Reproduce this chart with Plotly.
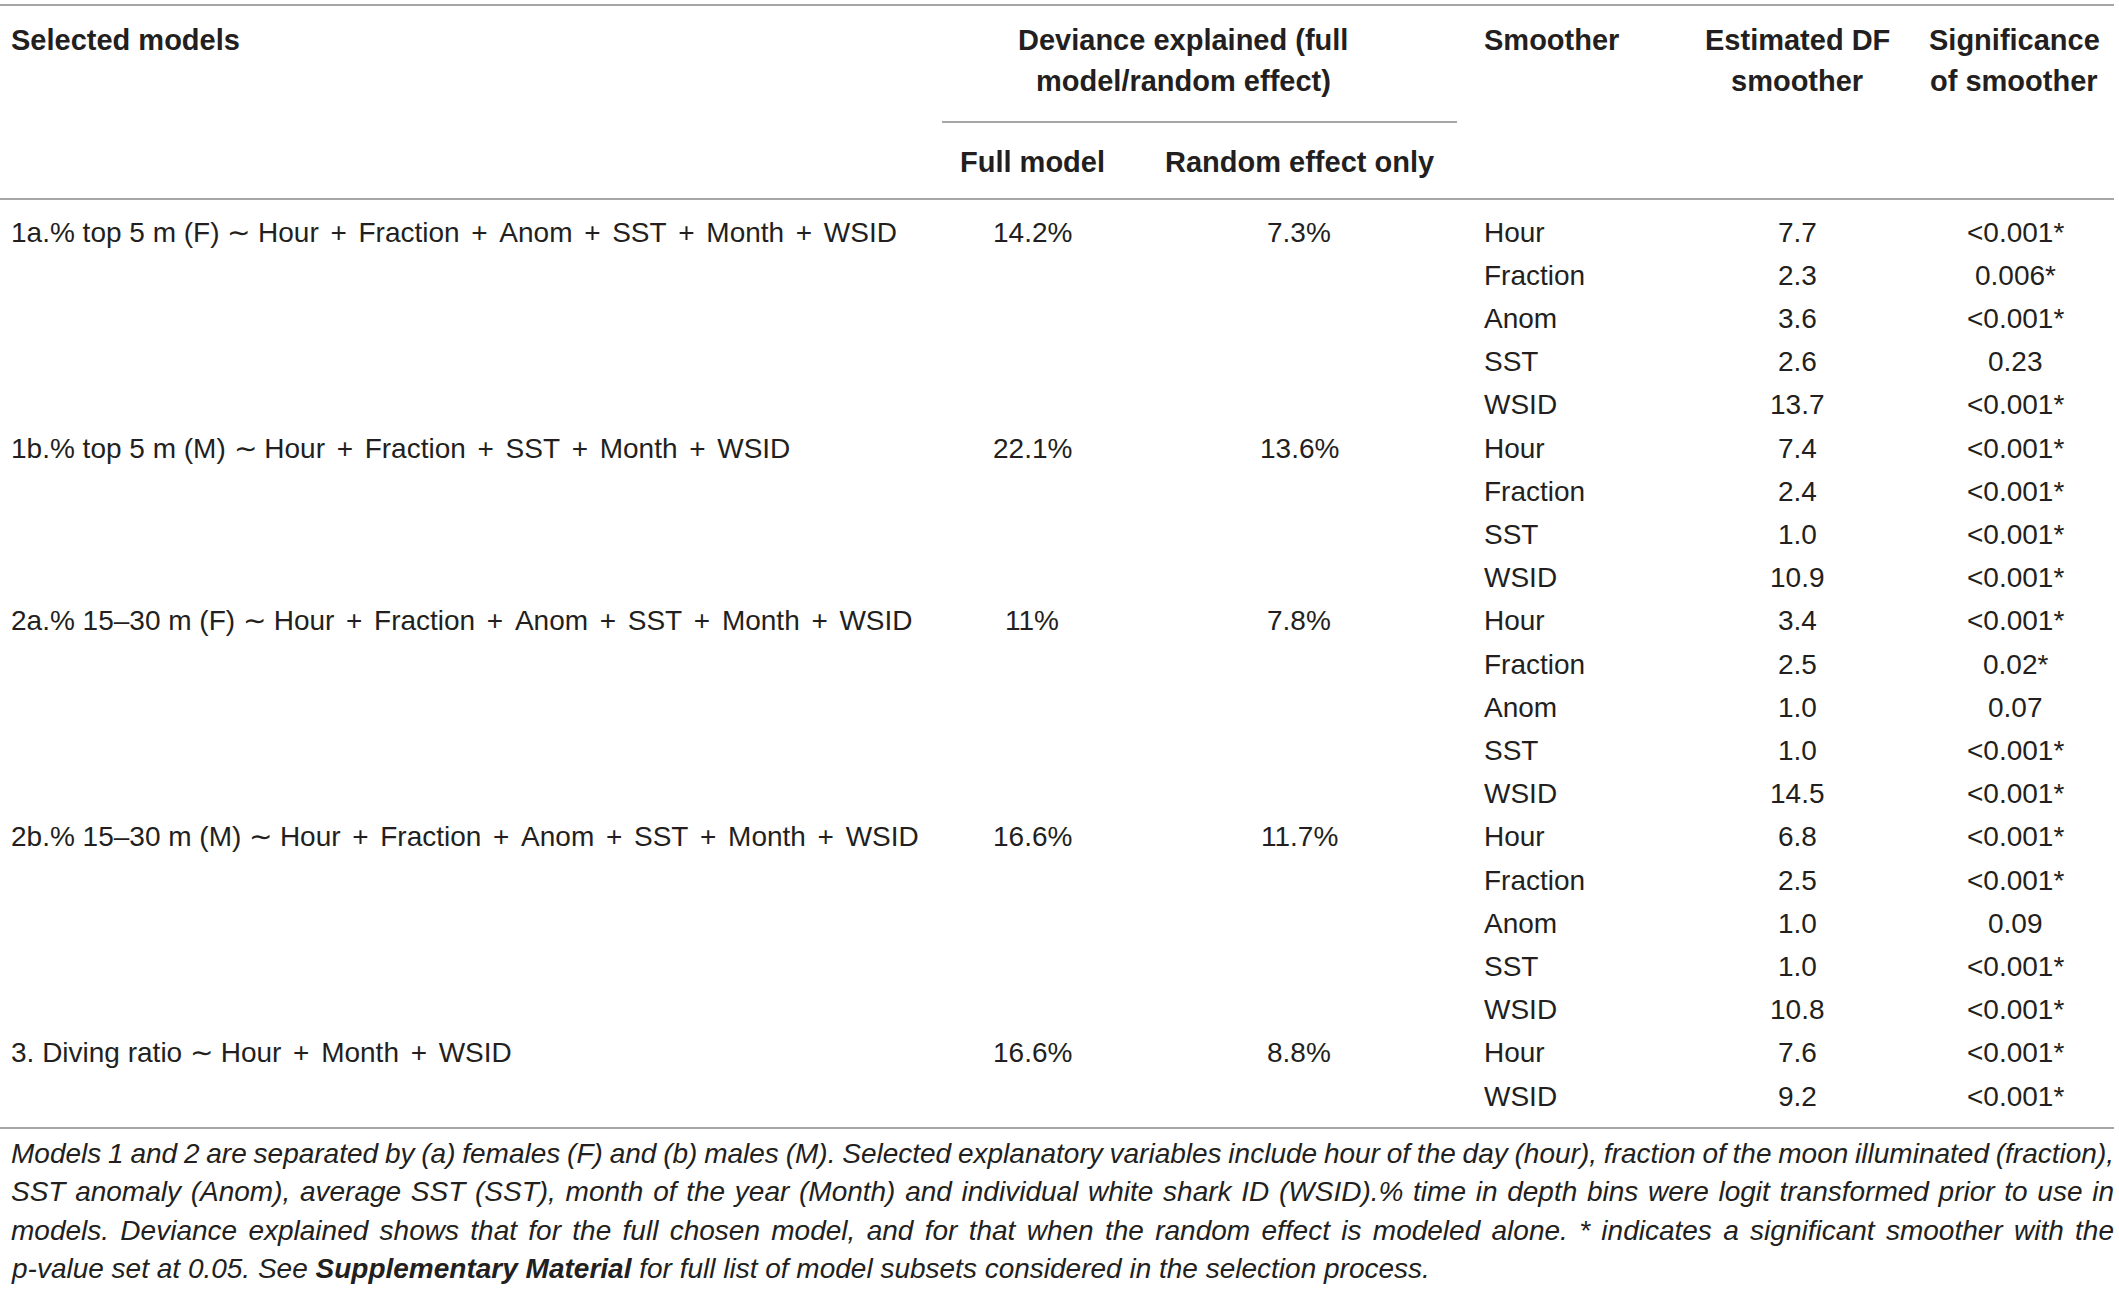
import json
import plotly.graph_objects as go

# ---------------- data ----------------
models = [
    "1a.% top 5 m (F) \u223c Hour + Fraction + Anom + SST + Month + WSID",
    "1b.% top 5 m (M) \u223c Hour + Fraction + SST + Month + WSID",
    "2a.% 15\u201330 m (F) \u223c Hour + Fraction + Anom + SST + Month + WSID",
    "2b.% 15\u201330 m (M) \u223c Hour + Fraction + Anom + SST + Month + WSID",
    "3. Diving ratio \u223c Hour + Month + WSID",
]
full_model = ["14.2%", "22.1%", "11%", "16.6%", "16.6%"]
random_only = ["7.3%", "13.6%", "7.8%", "11.7%", "8.8%"]
smoothers = [
    ["Hour", "Fraction", "Anom", "SST", "WSID"],
    ["Hour", "Fraction", "SST", "WSID"],
    ["Hour", "Fraction", "Anom", "SST", "WSID"],
    ["Hour", "Fraction", "Anom", "SST", "WSID"],
    ["Hour", "WSID"],
]
est_df = [
    [7.7, 2.3, 3.6, 2.6, 13.7],
    [7.4, 2.4, 1.0, 10.9],
    [3.4, 2.5, 1.0, 1.0, 14.5],
    [6.8, 2.5, 1.0, 1.0, 10.8],
    [7.6, 9.2],
]
significance = [
    ["<0.001*", "0.006*", "<0.001*", "0.23", "<0.001*"],
    ["<0.001*", "<0.001*", "<0.001*", "<0.001*"],
    ["<0.001*", "0.02*", "0.07", "<0.001*", "<0.001*"],
    ["<0.001*", "<0.001*", "0.09", "<0.001*", "<0.001*"],
    ["<0.001*", "<0.001*"],
]
caption_lines = [
    "Models 1 and 2 are separated by (a) females (F) and (b) males (M). Selected explanatory variables include hour of the day (hour), fraction of the moon illuminated (fraction),",
    "SST anomaly (Anom), average SST (SST), month of the year (Month) and individual white shark ID (WSID).% time in depth bins were logit transformed prior to use in",
    "models. Deviance explained shows that for the full chosen model, and for that when the random effect is modeled alone. * indicates a significant smoother with the",
    "p-value set at 0.05. See <b>Supplementary Material</b> for full list of model subsets considered in the selection process.",
]

# ---------------- layout constants ----------------
W, H = 2119, 1289
FONT = "Liberation Sans, Arial, Helvetica, sans-serif"
TXT = "#231f20"
RULE = "#a6a6a6"
FS, FS_B, FS_CAP = 28, 29, 28
X_MODEL, X_FULL, X_RAND, X_SMOOTH, X_DF, X_SIG = 9, 1032, 1299, 1482, 1797, 2015
X_DEV, X_SIGHEAD = 1183, 2014
SPAN_X0, SPAN_X1 = 942, 1457
Y_ROW0, ROW_H = 232, 43.2
Y_H1, Y_H2, Y_SUB = 40, 81, 162
Y_TOP, Y_SPAN, Y_HEAD, Y_BOT = 5, 122, 199, 1128
Y_CAP0, CAP_H = 1153, 38.5
CAP_WIDTH = 2103

fig = go.Figure()
ann = []


def add(text, x, y, anchor="left", size=FS, bold=False, italic=False):
    t = text
    if bold:
        t = "<b>" + t + "</b>"
    if italic:
        t = "<i>" + t + "</i>"
    ann.append(dict(text=t, x=x, y=y, xref="x", yref="y", xanchor=anchor,
                    align=anchor, yanchor="middle", showarrow=False,
                    font=dict(family=FONT, size=size, color=TXT)))
    return len(ann) - 1


def model_text(s):
    # math-style spacing around the plus operators
    return s.replace(" + ", "\u2004\u200a+\u2004\u200a")


# headers
add("Selected models", X_MODEL, Y_H1, size=FS_B, bold=True)
add("Deviance explained (full", X_DEV, Y_H1, "center", FS_B, True)
add("model/random effect)", X_DEV, Y_H2, "center", FS_B, True)
add("Full model", X_FULL, Y_SUB, "center", FS_B, True)
add("Random effect only", X_RAND, Y_SUB, "center", FS_B, True)
add("Smoother", X_SMOOTH, Y_H1, size=FS_B, bold=True)
add("Estimated DF", X_DF, Y_H1, "center", FS_B, True)
add("smoother", X_DF, Y_H2, "center", FS_B, True)
add("Significance", X_SIGHEAD, Y_H1, "center", FS_B, True)
add("of smoother", X_SIGHEAD, Y_H2, "center", FS_B, True)

# body
row = 0
for i, m in enumerate(models):
    y = Y_ROW0 + row * ROW_H
    add(model_text(m), X_MODEL, y)
    add(full_model[i], X_FULL, y, "center")
    add(random_only[i], X_RAND, y, "center")
    for j, s in enumerate(smoothers[i]):
        yy = Y_ROW0 + (row + j) * ROW_H
        add(s, X_SMOOTH, yy)
        add(f"{est_df[i][j]:.1f}", X_DF, yy, "center")
        add(significance[i][j].replace("<", "&lt;"), X_SIG, yy, "center")
    row += len(smoothers[i])

# caption
justify_idx = []
for k, line in enumerate(caption_lines):
    idx = add(line, X_MODEL, Y_CAP0 + k * CAP_H, size=FS_CAP, italic=True)
    if k < len(caption_lines) - 1:
        justify_idx.append(idx)

rule = dict(color=RULE, width=2)
shapes = [
    dict(type="line", xref="x", yref="y", x0=0, x1=W - 5, y0=Y_TOP, y1=Y_TOP, line=rule),
    dict(type="line", xref="x", yref="y", x0=SPAN_X0, x1=SPAN_X1, y0=Y_SPAN, y1=Y_SPAN, line=rule),
    dict(type="line", xref="x", yref="y", x0=0, x1=W - 5, y0=Y_HEAD, y1=Y_HEAD, line=rule),
    dict(type="line", xref="x", yref="y", x0=0, x1=W - 5, y0=Y_BOT, y1=Y_BOT, line=rule),
]

fig.update_layout(
    width=W, height=H,
    margin=dict(l=0, r=0, t=0, b=0),
    paper_bgcolor="white", plot_bgcolor="white",
    xaxis=dict(range=[0, W], visible=False, fixedrange=True),
    yaxis=dict(range=[H, 0], visible=False, fixedrange=True),
    annotations=ann, shapes=shapes, showlegend=False,
)

post = """
document.body.style.margin='0';
document.body.style.overflow='hidden';
var gd = document.getElementById('{plot_id}');
var JIDX = %s, TARGET = %d;
function justify(){
  JIDX.forEach(function(i){
    var t = gd.querySelector('.annotation[data-index="' + i + '"] text.annotation-text');
    if(!t) return;
    t.style.wordSpacing = '0px';
    var cur = t.getComputedTextLength();
    var n = (t.textContent.match(/ /g) || []).length;
    if(n > 0) t.style.wordSpacing = ((TARGET - cur) / n) + 'px';
  });
}
justify();
if(gd.on) gd.on('plotly_afterplot', justify);
""" % (json.dumps(justify_idx), CAP_WIDTH)

fig.write_html("out.html", post_script=post, config={"displayModeBar": False})
